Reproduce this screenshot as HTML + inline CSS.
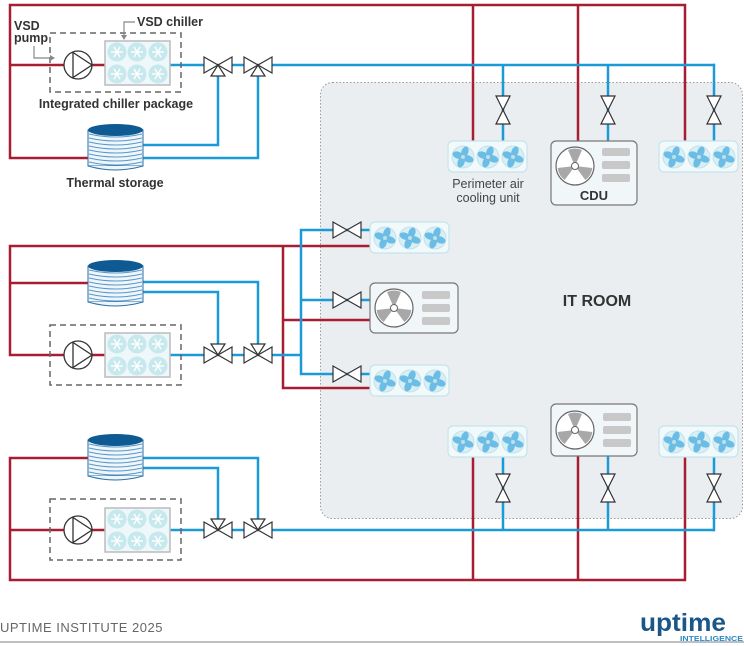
<!DOCTYPE html>
<html><head><meta charset="utf-8"><style>
body{margin:0;background:#fff}
svg{display:block}
text{font-family:"Liberation Sans",sans-serif}
</style></head><body>
<svg width="744" height="646" viewBox="0 0 744 646" xmlns="http://www.w3.org/2000/svg">
<defs>
<g id="fan"><circle r="11" fill="#d9eff6" stroke="#bfe2ec" stroke-width="1"/>
<g fill="#6cbde6"><ellipse cx="0" cy="-5.5" rx="3.5" ry="5.5" transform="rotate(20)"/><ellipse cx="0" cy="-5.5" rx="3.5" ry="5.5" transform="rotate(110)"/><ellipse cx="0" cy="-5.5" rx="3.5" ry="5.5" transform="rotate(200)"/><ellipse cx="0" cy="-5.5" rx="3.5" ry="5.5" transform="rotate(290)"/></g>
<circle r="2" fill="#bfe0e6"/></g>
<g id="snow"><circle r="9.5" fill="#c7e9ee"/><g stroke="#fff" stroke-width="1.4"><line x1="-6" y1="0" x2="6" y2="0"/><line x1="-3" y1="-5.2" x2="3" y2="5.2"/><line x1="-3" y1="5.2" x2="3" y2="-5.2"/></g></g>
<g id="chiller"><rect x="0" y="0" width="65" height="44" fill="#eef8fa" stroke="#bbb" stroke-width="1.5"/>
<use href="#snow" x="12" y="11"/><use href="#snow" x="32" y="11"/><use href="#snow" x="53" y="11"/>
<use href="#snow" x="12" y="33"/><use href="#snow" x="32" y="33"/><use href="#snow" x="53" y="33"/></g>
<g id="pump"><circle r="14" fill="#fff" stroke="#333" stroke-width="1.3"/><polygon points="-5,-12.5 14,0 -5,12.5" fill="none" stroke="#333" stroke-width="1.3"/></g>
<g id="hv"><polygon points="-14,-8 0,0 -14,8" fill="#fff" stroke="#333" stroke-width="1.2"/><polygon points="14,-8 0,0 14,8" fill="#fff" stroke="#333" stroke-width="1.2"/></g>
<g id="vv"><polygon points="-7,-14 7,-14 0,0" fill="#fff" stroke="#333" stroke-width="1.2"/><polygon points="-7,14 7,14 0,0" fill="#fff" stroke="#333" stroke-width="1.2"/></g>
<g id="v3d"><use href="#hv"/><polygon points="0,0 -7,11 7,11" fill="#fff" stroke="#333" stroke-width="1.2"/></g>
<g id="v3u"><use href="#hv"/><polygon points="0,0 -7,-11 7,-11" fill="#fff" stroke="#333" stroke-width="1.2"/></g>
<g id="tank"><rect x="0" y="6" width="55" height="36" fill="#eef6fb" stroke="#2c6ea5" stroke-width="1"/>
<path d="M0,42 Q27.5,50 55,42" fill="#eef6fb" stroke="#2c6ea5"/>
<g stroke="#5a98c8" stroke-width="1" fill="none">
<path d="M1,10 Q27.5,16 54,10"/><path d="M1,14 Q27.5,20 54,14"/><path d="M1,18 Q27.5,24 54,18"/><path d="M1,22 Q27.5,28 54,22"/><path d="M1,26 Q27.5,32 54,26"/><path d="M1,30 Q27.5,36 54,30"/><path d="M1,34 Q27.5,40 54,34"/><path d="M1,38 Q27.5,44 54,38"/></g>
<ellipse cx="27.5" cy="6" rx="27.5" ry="6" fill="#0f5a92"/></g>
<g id="unit"><rect x="0" y="0" width="79" height="31" rx="5" fill="#f1f9fb" stroke="#c4e4ec" stroke-width="1.2"/>
<use href="#fan" x="15" y="16"/><use href="#fan" x="40" y="16"/><use href="#fan" x="65" y="16"/></g>
<g id="cdufan"><circle r="19" fill="#fff" stroke="#666" stroke-width="1.2"/>
<g fill="#a8a8a8"><path d="M0,0 L-7,-16 Q0,-19 7,-16 Z"/><path d="M0,0 L-7,-16 Q0,-19 7,-16 Z" transform="rotate(120)"/><path d="M0,0 L-7,-16 Q0,-19 7,-16 Z" transform="rotate(240)"/></g>
<circle r="3.5" fill="#fff" stroke="#666"/></g>
<g id="bars" fill="#c8c8c8"><rect x="0" y="0" width="28" height="8" rx="2"/><rect x="0" y="13" width="28" height="8" rx="2"/><rect x="0" y="26" width="28" height="8" rx="2"/></g>
</defs>

<rect x="320.5" y="82.5" width="422" height="436" rx="12" fill="#ebeef0" stroke="#999" stroke-width="1" stroke-dasharray="1.5,2"/>
<text x="597" y="306" font-size="16" font-weight="bold" fill="#333" text-anchor="middle">IT ROOM</text>

<g fill="none" stroke-width="2.5">
<g stroke="#a71d31">
<polyline points="685,142 685,5 10,5 10,158 90,158"/>
<line x1="10" y1="65" x2="64" y2="65"/><line x1="92" y1="65" x2="105" y2="65"/>
<line x1="473" y1="5" x2="473" y2="142"/><line x1="578" y1="5" x2="578" y2="142"/>
<polyline points="370,246 10,246 10,355 64,355"/><line x1="10" y1="283" x2="90" y2="283"/><line x1="92" y1="355" x2="105" y2="355"/>
<polyline points="283,246 283,388 370,388"/><line x1="283" y1="320" x2="370" y2="320"/>
<polyline points="90,458 10,458 10,580 685,580 685,457"/><line x1="10" y1="530" x2="64" y2="530"/><line x1="92" y1="530" x2="105" y2="530"/>
<line x1="473" y1="580" x2="473" y2="457"/><line x1="578" y1="580" x2="578" y2="456"/>
</g>
<g stroke="#1b9ad8">
<line x1="170" y1="65" x2="715" y2="65"/>
<polyline points="218,65 218,145 143,145"/><polyline points="258,65 258,158 143,158"/>
<line x1="503" y1="65" x2="503" y2="142"/><line x1="608" y1="65" x2="608" y2="142"/><line x1="714" y1="63.8" x2="714" y2="142"/>
<line x1="170" y1="355" x2="302" y2="355"/>
<polyline points="143,282 258,282 258,355"/><polyline points="143,292 218,292 218,355"/>
<polyline points="370,230 301,230 301,374 370,374"/><line x1="301" y1="300" x2="370" y2="300"/>
<line x1="170" y1="530" x2="715" y2="530"/>
<polyline points="143,458 258,458 258,530"/><polyline points="143,468 218,468 218,530"/>
<line x1="503" y1="457" x2="503" y2="530"/><line x1="608" y1="456" x2="608" y2="530"/><line x1="714" y1="457" x2="714" y2="531.2"/>
</g>
</g>

<rect x="50" y="33" width="131" height="59" fill="none" stroke="#666" stroke-width="1.5" stroke-dasharray="6,4"/>
<use href="#pump" x="78" y="65"/>
<use href="#chiller" x="105" y="41"/>
<use href="#tank" x="88" y="124"/>
<use href="#v3d" x="218" y="65"/><use href="#v3d" x="258" y="65"/>
<text x="14" y="30" font-size="12.5" font-weight="bold" fill="#333">VSD</text>
<text x="14" y="42" font-size="12.5" font-weight="bold" fill="#333">pump</text>
<polyline points="34,46 34,58 50,58" fill="none" stroke="#888" stroke-width="1.2"/><polygon points="50,55 55,58 50,61" fill="#888"/>
<text x="137" y="26" font-size="12.5" font-weight="bold" fill="#333">VSD chiller</text>
<polyline points="135,22 124,22 124,35" fill="none" stroke="#888" stroke-width="1.2"/><polygon points="121,35 124,40 127,35" fill="#888"/>
<text x="116" y="108" font-size="12.5" font-weight="bold" fill="#333" text-anchor="middle">Integrated chiller package</text>
<text x="115" y="187" font-size="12.5" font-weight="bold" fill="#333" text-anchor="middle">Thermal storage</text>

<rect x="50" y="325" width="131" height="60" fill="none" stroke="#666" stroke-width="1.5" stroke-dasharray="6,4"/>
<use href="#pump" x="78" y="355"/>
<use href="#chiller" x="105" y="333"/>
<use href="#tank" x="88" y="260"/>
<use href="#v3u" x="218" y="355"/><use href="#v3u" x="258" y="355"/>
<use href="#hv" x="347" y="230"/><use href="#hv" x="347" y="300"/><use href="#hv" x="347" y="374"/>

<rect x="50" y="499" width="131" height="61" fill="none" stroke="#666" stroke-width="1.5" stroke-dasharray="6,4"/>
<use href="#pump" x="78" y="530"/>
<use href="#chiller" x="105" y="508"/>
<use href="#tank" x="88" y="434"/>
<use href="#v3u" x="218" y="530"/><use href="#v3u" x="258" y="530"/>

<use href="#vv" x="503" y="110"/><use href="#vv" x="608" y="110"/><use href="#vv" x="714" y="110"/>
<use href="#unit" x="448" y="141"/>
<use href="#unit" x="659" y="141"/>
<rect x="551" y="141" width="86" height="64" rx="5" fill="#f1f6f8" stroke="#777" stroke-width="1.2"/>
<use href="#cdufan" x="575" y="166"/><use href="#bars" x="602" y="148"/>
<text x="594" y="200" font-size="13" font-weight="bold" fill="#333" text-anchor="middle">CDU</text>
<text x="488" y="188" font-size="12.5" fill="#444" text-anchor="middle">Perimeter air</text>
<text x="488" y="202" font-size="12.5" fill="#444" text-anchor="middle">cooling unit</text>

<use href="#unit" x="370" y="222"/>
<rect x="370" y="283" width="88" height="50" rx="5" fill="#f1f6f8" stroke="#777" stroke-width="1.2"/>
<use href="#cdufan" x="394" y="308"/><use href="#bars" x="422" y="291"/>
<use href="#unit" x="370" y="365"/>

<use href="#unit" x="448" y="426"/>
<use href="#unit" x="659" y="426"/>
<rect x="551" y="404" width="86" height="52" rx="5" fill="#f1f6f8" stroke="#777" stroke-width="1.2"/>
<use href="#cdufan" x="575" y="430"/><use href="#bars" x="603" y="413"/>
<use href="#vv" x="503" y="488"/><use href="#vv" x="608" y="488"/><use href="#vv" x="714" y="488"/>

<text x="0" y="632" font-size="13" fill="#666" letter-spacing="0.5">UPTIME INSTITUTE 2025</text>
<line x1="0" y1="642" x2="744" y2="642" stroke="#aaa" stroke-width="1.5"/>
<text x="640" y="631" font-size="25" font-weight="bold" fill="#1a5688" textLength="86" lengthAdjust="spacingAndGlyphs">uptime</text>
<text x="680" y="641" font-size="7.5" font-weight="bold" fill="#2a8ac6" textLength="63" lengthAdjust="spacingAndGlyphs">INTELLIGENCE</text>
</svg>
</body></html>
